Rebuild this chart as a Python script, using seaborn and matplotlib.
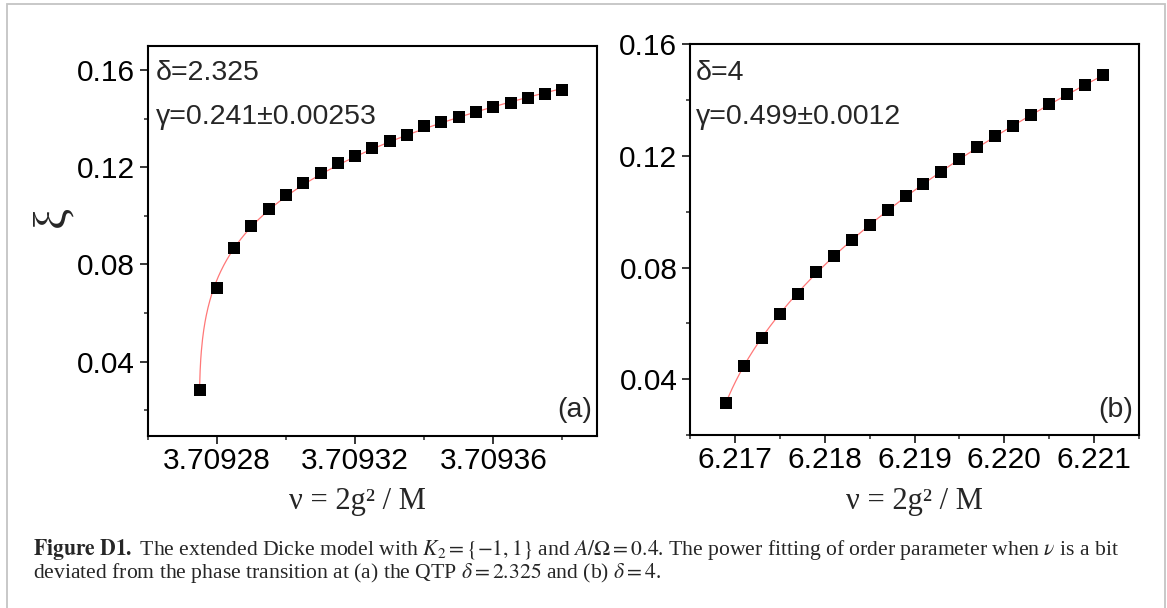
import numpy as np
import matplotlib
matplotlib.use("Agg")
import matplotlib.pyplot as plt
from matplotlib.ticker import FixedLocator, FormatStrFormatter
from matplotlib.patches import Rectangle
import seaborn as sns

# ---------------- data ----------------
nu_a = [3.709275, 3.709280, 3.709285, 3.709290, 3.709295, 3.709300, 3.709305,
        3.709310, 3.709315, 3.709320, 3.709325, 3.709330, 3.709335, 3.709340,
        3.709345, 3.709350, 3.709355, 3.709360, 3.709365, 3.709370, 3.709375,
        3.709380]
xi_a = [0.0285, 0.0703, 0.0867, 0.0960, 0.1030, 0.1085, 0.1136, 0.1177,
        0.1218, 0.1247, 0.1279, 0.1307, 0.1334, 0.1370, 0.1385, 0.1407,
        0.1426, 0.1447, 0.1464, 0.1484, 0.1501, 0.1518]

nu_b = [6.2169, 6.2171, 6.2173, 6.2175, 6.2177, 6.2179, 6.2181, 6.2183,
        6.2185, 6.2187, 6.2189, 6.2191, 6.2193, 6.2195, 6.2197, 6.2199,
        6.2201, 6.2203, 6.2205, 6.2207, 6.2209, 6.2211]
xi_b = [0.0316, 0.0446, 0.0548, 0.0633, 0.0707, 0.0783, 0.0840, 0.0897,
        0.0951, 0.1005, 0.1055, 0.1099, 0.1143, 0.1188, 0.1231, 0.1271,
        0.1308, 0.1345, 0.1385, 0.1421, 0.1454, 0.1489]

gamma_a = 0.241
gamma_b = 0.499
label_delta_a = "δ=2.325"
label_gamma_a = "γ=0.241±0.00253"
label_delta_b = "δ=4"
label_gamma_b = "γ=0.499±0.0012"

xticks_a = [3.70928, 3.70932, 3.70936]
xminor_a = [3.70926, 3.70930, 3.70934, 3.70938]
xticks_b = [6.217, 6.218, 6.219, 6.220, 6.221]
xminor_b = [6.2165, 6.2175, 6.2185, 6.2195, 6.2205, 6.2215]
yticks = [0.04, 0.08, 0.12, 0.16]
yminor = [0.02, 0.06, 0.10, 0.14]

caption1 = (r"$\mathbf{Figure\ D1.}$ The extended Dicke model with $K_2=\{-1,1\}$ "
            r"and $A/\Omega=0.4$. The power fitting of order parameter when $\nu$ is a bit")
caption2 = r"deviated from the phase transition at (a) the QTP $\delta=2.325$ and (b) $\delta=4$."


def power_fit(x, y, gamma):
    """Least-squares fit xi = A (nu - nu_c)^gamma with gamma fixed."""
    x = np.asarray(x, float)
    y = np.asarray(y, float)
    dx = x[1] - x[0]
    best = None
    for c in np.linspace(x[0] - 20 * dx, x[0] - 1e-4 * dx, 4000):
        lx = np.log(x - c)
        la = np.mean(np.log(y) - gamma * lx)
        r = np.sum((np.exp(la) * (x - c) ** gamma - y) ** 2)
        if best is None or r < best[0]:
            best = (r, c, np.exp(la))
    _, c, a = best
    xf = np.linspace(x[0], x[-1], 600)
    return xf, a * (xf - c) ** gamma


# ---------------- style ----------------
sns.set_theme(style="white")
plt.rcParams["font.family"] = ["Liberation Sans", "DejaVu Sans"]
plt.rcParams["mathtext.fontset"] = "stix"

W, H = 1167, 608
fig = plt.figure(figsize=(W / 100, H / 100), dpi=100)
fig.patch.set_facecolor("white")

ax_a = fig.add_axes([147.7 / W, 1 - 435.7 / H, (597 - 147.7) / W, (435.7 - 45.7) / H])
ax_b = fig.add_axes([690 / W, 1 - 435 / H, (1139 - 690) / W, (435 - 44.3) / H])

red = "#ff7878"
for ax, nu, xi, g in [(ax_a, nu_a, xi_a, gamma_a), (ax_b, nu_b, xi_b, gamma_b)]:
    xf, yf = power_fit(nu, xi, g)
    sns.lineplot(x=xf, y=yf, color=red, lw=0.9, ax=ax, zorder=2)
    sns.scatterplot(x=nu, y=xi, marker="s", color="black", s=72, linewidth=0,
                    ax=ax, zorder=3)

ax_a.set_xlim(3.70926, 3.70939)
ax_a.set_ylim(0.0095, 0.170)
ax_b.set_xlim(6.2165, 6.2215)
ax_b.set_ylim(0.02, 0.16)

ax_a.xaxis.set_major_locator(FixedLocator(xticks_a))
ax_a.xaxis.set_minor_locator(FixedLocator(xminor_a))
ax_a.xaxis.set_major_formatter(FormatStrFormatter("%.5f"))
ax_b.xaxis.set_major_locator(FixedLocator(xticks_b))
ax_b.xaxis.set_minor_locator(FixedLocator(xminor_b))
ax_b.xaxis.set_major_formatter(FormatStrFormatter("%.3f"))

for ax in (ax_a, ax_b):
    ax.yaxis.set_major_locator(FixedLocator(yticks))
    ax.yaxis.set_minor_locator(FixedLocator(yminor))
    ax.yaxis.set_major_formatter(FormatStrFormatter("%.2f"))
    for s in ax.spines.values():
        s.set_visible(True)
        s.set_linewidth(1.5)
        s.set_color("black")
    ax.tick_params(which="major", direction="out", length=5.5, width=1.1,
                   labelsize=21.5, colors="black", left=True, bottom=True)
    ax.tick_params(which="minor", direction="out", length=2.8, width=1.1,
                   left=True, bottom=True)
    ax.tick_params(axis="x", which="major", pad=2.5)
    ax.tick_params(axis="y", which="major", pad=3.6)
    ax.set_facecolor("white")
    ax.grid(False)

# annotations
ax_a.text(0.0185, 0.931, label_delta_a, transform=ax_a.transAxes, fontsize=20.5,
          ha="left", va="center")
ax_a.text(0.0185, 0.818, label_gamma_a, transform=ax_a.transAxes, fontsize=20.5,
          ha="left", va="center")
ax_a.text(0.989, 0.066, "(a)", transform=ax_a.transAxes, fontsize=20.5,
          ha="right", va="center")
ax_b.text(0.0134, 0.926, label_delta_b, transform=ax_b.transAxes, fontsize=20.5,
          ha="left", va="center")
ax_b.text(0.0134, 0.815, label_gamma_b, transform=ax_b.transAxes, fontsize=20.5,
          ha="left", va="center")
ax_b.text(0.986, 0.063, "(b)", transform=ax_b.transAxes, fontsize=20.5,
          ha="right", va="center")

# axis labels
ax_a.set_ylabel("ξ", fontfamily="Liberation Serif", fontsize=34, va="center", ha="center")
ax_a.yaxis.set_label_coords(-0.21, 0.5615)
ax_b.set_ylabel("")
ax_a.set_xlabel("ν = 2g² / M", fontfamily="Liberation Serif", fontsize=22, va="center")
ax_a.xaxis.set_label_coords(0.466, -0.170)
ax_b.set_xlabel("ν = 2g² / M", fontfamily="Liberation Serif", fontsize=22, va="center")
ax_b.xaxis.set_label_coords(0.5, -0.171)

# caption
fig.text(33 / W, 1 - 555 / H, caption1, fontfamily="Liberation Serif", fontsize=15.6,
         ha="left", va="baseline")
fig.text(33 / W, 1 - 578.3 / H, caption2, fontfamily="Liberation Serif", fontsize=15.6,
         ha="left", va="baseline")

# outer gray frame
fig.patches.append(Rectangle((7 / W, -0.05), (1165 - 7) / W, 1.05 - 4.5 / H,
                             transform=fig.transFigure, fill=False,
                             edgecolor="#c4c4c4", linewidth=1.3))

fig.savefig("out.png", dpi=100, facecolor="white")
